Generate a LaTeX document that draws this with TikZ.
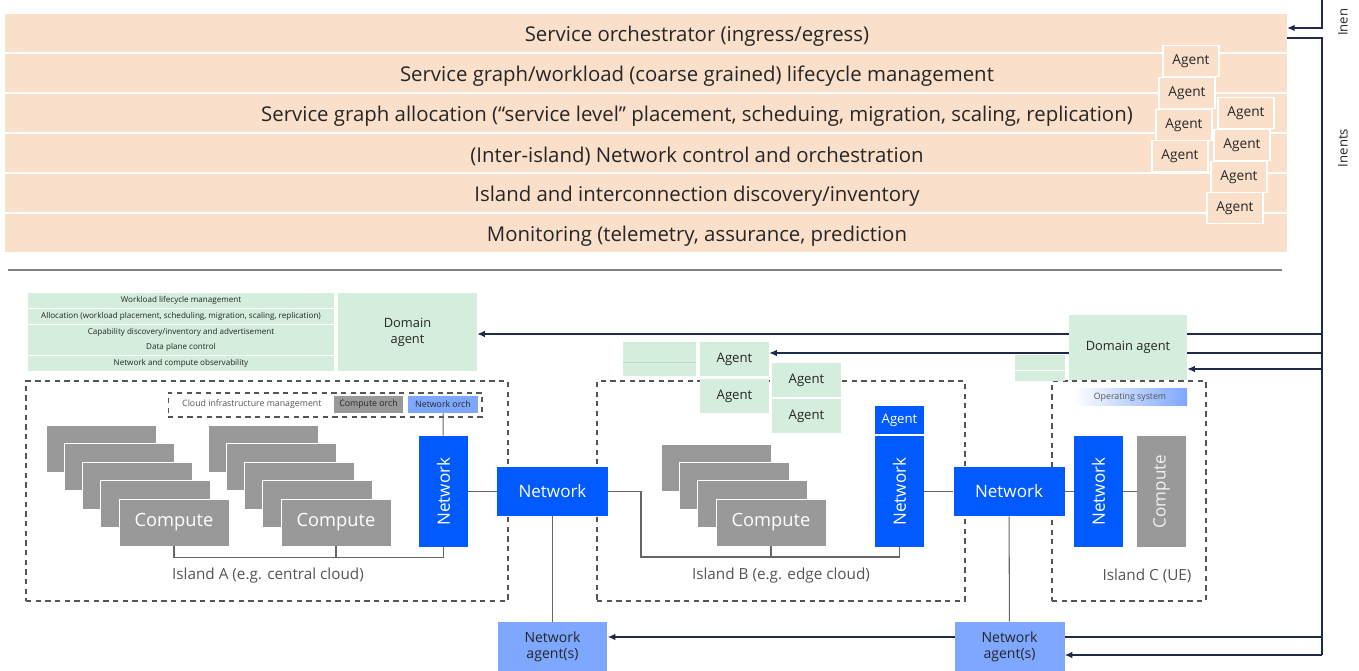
\documentclass[tikz,border=0pt]{standalone}
\usepackage{fontspec}
\setmainfont{Open Sans}
\usetikzlibrary{arrows.meta, backgrounds, calc, positioning}
\tikzset{> = { Latex[length = 1.5mm, width = 1.3mm] }}
\definecolor{peach}{HTML}{FADFCA}
\definecolor{mint}{HTML}{D4EDDC}
\definecolor{mintline}{HTML}{B4DCC0}
\definecolor{nblue}{HTML}{005AFF}
\definecolor{lblue}{HTML}{7EA7FF}
\definecolor{cgray}{HTML}{999999}
\definecolor{wiregray}{HTML}{666666}
\definecolor{dashgray}{HTML}{555555}
\definecolor{navy}{HTML}{1E2A4A}
\definecolor{ink}{HTML}{262626}

\begin{document}
\begin{tikzpicture}[x = 0.02cm, y = -0.02cm, text = ink,
    bar/.style = { fill = peach, minimum width = 25.64cm, minimum height = 0.76cm, inner sep = 0 },
    bartext/.style = { font = \fontsize{11.6}{14}\selectfont },
    agenttop/.style = { fill = peach, draw = white, line width = 1pt, minimum width = 1.12cm, minimum height = 0.62cm, inner sep = 0, font = \fontsize{7.8}{9}\selectfont },
    row/.style = { fill = mint, minimum width = 6.12cm, minimum height = 0.3cm, inner sep = 0, font = \fontsize{4.6}{5.5}\selectfont },
    domainbox/.style = { fill = mint, align = center, inner sep = 0, font = \fontsize{7.3}{9}\selectfont },
    agentg/.style = { fill = mint, minimum width = 1.38cm, minimum height = 0.68cm, inner sep = 0, font = \fontsize{7.5}{9}\selectfont },
    island/.style = { draw = dashgray, dash pattern = on 3pt off 2.5pt, line width = 0.7pt, minimum height = 4.4cm, inner sep = 0 },
    islandtext/.style = { text = dashgray, font = \fontsize{8.7}{10}\selectfont },
    compute/.style = { fill = cgray, draw = white, line width = 0.5pt, minimum width = 2.2cm, minimum height = 0.94cm, inner sep = 0, text = white, font = \fontsize{10.4}{12}\selectfont },
    net/.style = { fill = nblue, minimum width = 2.22cm, minimum height = 0.98cm, inner sep = 0, text = white, font = \fontsize{9.7}{11}\selectfont },
    orchbox/.style = { minimum width = 1.38cm, minimum height = 0.34cm, inner sep = 0, font = \fontsize{5}{6}\selectfont },
    netagent/.style = { fill = lblue, minimum width = 2.2cm, minimum height = 1cm, align = center, inner sep = 0, font = \fontsize{8}{9.5}\selectfont },
    wire/.style = { draw = wiregray, line width = 0.6pt },
    link/.style = { draw = navy, line width = 0.6pt }]
    \useasboundingbox (0,0) rectangle (1359,671);

    % global layers
    \node [bar] (orch) at (646,33) {};
    \node [bar] (life) at (646,73) {};
    \node [bar] (alloc) at (646,113) {};
    \node [bar] (inter) at (646,153) {};
    \node [bar] (disc) at (646,193) {};
    \node [bar] (mon) at (646,233) {};
    \node [bartext] at (697,36) {Service orchestrator (ingress/egress)};
    \node [bartext] at (697,76) {Service graph/workload (coarse grained) lifecycle management};
    \node [bartext] at (697,116) {Service graph allocation (“service level” placement, scheduing, migration, scaling, replication)};
    \node [bartext] at (697,156) {(Inter-island) Network control and orchestration};
    \node [bartext] at (697,196) {Island and interconnection discovery/inventory};
    \node [bartext] at (697,236) {Monitoring (telemetry, assurance, prediction};

    \node [agenttop] (ag1) at (1191,61) {Agent};
    \node [agenttop] (ag2) at (1187,93) {Agent};
    \node [agenttop] (ag3) at (1184,125) {Agent};
    \node [agenttop] (ag4) at (1180,156) {Agent};
    \node [agenttop] (ag5) at (1246,113) {Agent};
    \node [agenttop] (ag6) at (1242,145) {Agent};
    \node [agenttop] (ag7) at (1239,177) {Agent};
    \node [agenttop] (ag8) at (1235,208) {Agent};

    \node [rotate = 90, anchor = west, font = \fontsize{7.5}{9}\selectfont] (intop) at (1343,42) {Inen};
    \node [rotate = 90, font = \fontsize{7.5}{9}\selectfont] (intents) at (1343,148) {Inents};

    \draw [gray, line width = 0.6pt] (8,270) -- (1282,270);

    % island A
    \foreach \t [count = \i] in {Workload lifecycle management, {Allocation (workload placement, scheduling, migration, scaling, replication)}, Capability discovery/inventory and advertisement, Data plane control, Network and compute observability}
        \node [row] (row\i) at (181,{285 + 15.7*\i}) {\t};
    \node [domainbox, minimum width = 2.78cm, minimum height = 1.56cm] (dA) at (407.5,332) {Domain\\agent};

    \node [island, minimum width = 9.64cm] (isA) at (267,491) {};
    \node [island, minimum width = 6.28cm, minimum height = 0.48cm, line width = 0.6pt] (cim) at (325,405) {};
    \node [anchor = west, font = \fontsize{5}{6}\selectfont, text = dashgray] (cimt) at (176,404) {Cloud infrastructure management};
    \node [orchbox, fill = cgray] (corch) at (368.5,404.5) {Compute orch};
    \node [orchbox, fill = lblue, minimum width = 1.4cm] (norch) at (443,404.5) {Network orch};

    \foreach \k in {4,...,1}
        \node [compute] at ({174 - 18.25*\k},{522.5 - 18.5*\k}) {};
    \node [compute] (cA1) at (174,522.5) {Compute};
    \foreach \k in {4,...,1}
        \node [compute] at ({336 - 18.25*\k},{522.5 - 18.5*\k}) {};
    \node [compute] (cA2) at (336,522.5) {Compute};
    \node [net, rotate = 90] (netA) at (443.5,491.5) {Network};
    \node [islandtext] (labA) at (268,576) {Island A (e.g. central cloud)};

    % island B
    \node [island, minimum width = 7.36cm] (isB) at (781,491) {};
    \node [fill = mint, minimum width = 1.46cm, minimum height = 0.68cm, inner sep = 0] (gB0) at (659.5,359) {};
    \draw [mintline, line width = 0.5pt] (gB0.west |- 0,362) -- (gB0.east |- 0,362);
    \node [agentg] (gB1) at (734.5,359) {Agent};
    \node [agentg] (gB2) at (734.5,396) {Agent};
    \node [agentg] (gB3) at (806.5,380) {Agent};
    \node [agentg] (gB4) at (806.5,416) {Agent};

    \foreach \k in {3,...,1}
        \node [compute] at ({771 - 18.3*\k},{522.5 - 18.3*\k}) {};
    \node [compute] (cB) at (771,522.5) {Compute};
    \node [fill = nblue, text = white, minimum width = 0.98cm, minimum height = 0.56cm, inner sep = 0, font = \fontsize{7.5}{9}\selectfont] (agB) at (899.5,420) {Agent};
    \node [net, rotate = 90] (netB) at (899.5,491.5) {Network};
    \node [islandtext] (labB) at (781,576) {Island B (e.g. edge cloud)};

    % island C
    \node [island, minimum width = 3.08cm] (isC) at (1129,491) {};
    \node [domainbox, minimum width = 2.36cm, minimum height = 1.3cm] (dC) at (1128,347.5) {Domain agent};
    \node [fill = mint, minimum width = 1cm, minimum height = 0.3cm, inner sep = 0] (gC1) at (1040,362.5) {};
    \node [fill = mint, minimum width = 1cm, minimum height = 0.2cm, inner sep = 0] (gC2) at (1040,376) {};
    \node [orchbox, minimum width = 2.28cm, left color = white, right color = lblue, text = dashgray] (os) at (1130,397.5) {Operating system};
    \node [net, rotate = 90] (netC) at (1098.5,491.5) {Network};
    \node [net, rotate = 90, fill = cgray, text = white!90!gray] (cC) at (1161.5,491.5) {Compute};
    \node [islandtext] (labC) at (1147,576) {Island C (UE)};

    % interconnect
    \node [net] (netAB) at (552.5,491.5) {Network};
    \node [net] (netBC) at (1009,491.5) {Network};
    \node [netagent] (naA) at (552.5,647) {Network\\agent(s)};
    \node [netagent] (naB) at (1009.5,647) {Network\\agent(s)};

    \begin{scope}[on background layer]
        \coordinate (top) at (1322,0);
        \coordinate (r0) at (1322,38);
        \coordinate (r1) at (1322,334);
        \coordinate (r2) at (1322,353);
        \coordinate (r3) at (1322,369);
        \coordinate (r4) at (1322,637);
        \coordinate (r5) at (1322,655);
        \draw [link, ->] (top) |- (orch.east |- 0,28);
        \draw [link] (orch.east |- r0) -- (r0) -- (r5);
        \draw [link, ->] (r1) -- (r1 -| dA.east);
        \draw [link, ->] (r2) -- (r2 -| gB1.east);
        \draw [link, ->] (r3) -- (r3 -| dC.east);
        \draw [link, ->] (r4) -- (r4 -| naA.east);
        \draw [link, ->] (r5) -- (r5 -| naB.east);
    \end{scope}

    \draw [wire] (norch) -- (netA);
    \draw [wire] (cA1.south) -- ++(0,11) -| (netA.west);
    \draw [wire] (cA2.south) -- ++(0,11);
    \draw [wire] (netA) -- (netAB);
    \draw [wire] (netAB.east) -| (641,557) -| (netB.west);
    \draw [wire] (cB.south) -- ++(0,11);
    \draw [wire] (netB) -- (netBC);
    \draw [wire] (netBC) -- (netC);
    \draw [wire] (netC) -- (cC);
    \draw [wire] (netAB) -- (naA);
    \draw [wire] (netBC) -- (naB);
\end{tikzpicture}
\end{document}
